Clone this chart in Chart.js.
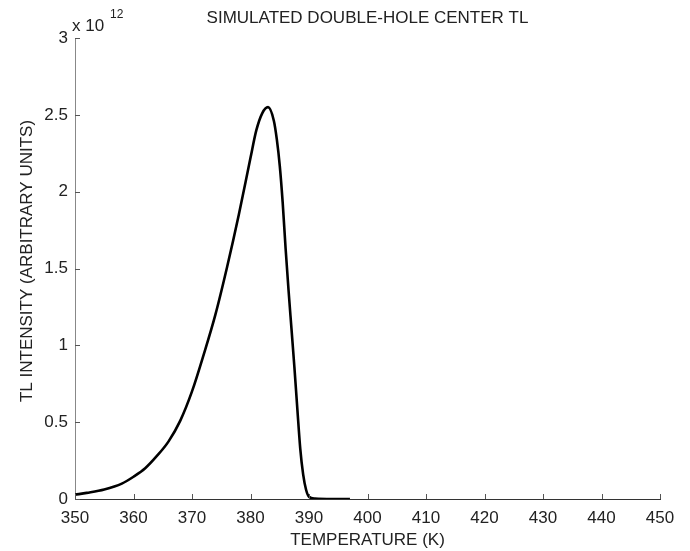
<!DOCTYPE html>
<html>
<head>
<meta charset="utf-8">
<script src="https://cdn.jsdelivr.net/npm/chart.js@4/dist/chart.umd.min.js"></script>
<style>
  html, body { margin: 0; padding: 0; background: #fff; }
  #wrap { width: 690px; height: 551px; }
</style>
</head>
<body>
<div id="wrap"><canvas id="tlChart" width="690" height="551"></canvas></div>
<script>
// temperature (K)
const temperature = [350, 352, 355, 358, 360, 362, 364, 366, 368, 370, 372, 374, 376, 378, 380, 381, 382, 383, 384, 384.5, 385, 385.5, 386, 386.5, 387, 387.5, 388, 388.5, 389, 389.5, 390, 391, 394, 397];
// TL intensity, in units of 10^12
const intensity = [0.028, 0.04, 0.062, 0.10, 0.145, 0.20, 0.28, 0.375, 0.51, 0.70, 0.94, 1.20, 1.51, 1.85, 2.22, 2.40, 2.51, 2.55, 2.46, 2.34, 2.17, 1.93, 1.63, 1.36, 1.11, 0.86, 0.59, 0.33, 0.16, 0.06, 0.015, 0.003, 0, 0];

const xTicks = [350, 360, 370, 380, 390, 400, 410, 420, 430, 440, 450];
const yTicks = [0, 0.5, 1, 1.5, 2, 2.5, 3];

const FONT = "'Liberation Sans', Arial, sans-serif";

// inward tick marks, title, y label and exponent
const decorPlugin = {
  id: "decor",
  afterDatasetsDraw(chart) {
    const { ctx, chartArea, scales } = chart;
    ctx.save();
    ctx.strokeStyle = "#555";
    ctx.lineWidth = 1;
    xTicks.forEach((t) => {
      const px = Math.round(scales.x.getPixelForValue(t)) + 0.5;
      ctx.beginPath();
      ctx.moveTo(px, chartArea.bottom);
      ctx.lineTo(px, chartArea.bottom - 5);
      ctx.stroke();
    });
    yTicks.forEach((t) => {
      const py = Math.round(scales.y.getPixelForValue(t)) + 0.5;
      ctx.beginPath();
      ctx.moveTo(chartArea.left, py);
      ctx.lineTo(chartArea.left + 5, py);
      ctx.stroke();
    });

    ctx.fillStyle = "#222";
    ctx.textBaseline = "alphabetic";
    ctx.textAlign = "center";
    ctx.font = "17px " + FONT;
    ctx.fillText("SIMULATED DOUBLE-HOLE CENTER TL", (chartArea.left + chartArea.right) / 2, 23);

    ctx.textAlign = "left";
    ctx.font = "17px " + FONT;
    ctx.fillText("x 10", 72, 31);
    ctx.font = "12px " + FONT;
    ctx.fillText("12", 110, 18);

    // y axis title
    ctx.translate(27, 261);
    ctx.rotate(-Math.PI / 2);
    ctx.textAlign = "center";
    ctx.textBaseline = "middle";
    ctx.font = "17px " + FONT;
    ctx.fillText("TL INTENSITY (ARBITRARY UNITS)", 0, 0);
    ctx.restore();
  },
};

new Chart(document.getElementById("tlChart"), {
  type: "line",
  data: {
    datasets: [
      {
        label: "TL",
        data: temperature.map((t, i) => ({ x: t, y: intensity[i] })),
        borderColor: "#000",
        borderWidth: 2.6,
        pointRadius: 0,
        cubicInterpolationMode: "monotone",
        fill: false,
      },
    ],
  },
  options: {
    responsive: false,
    animation: false,
    layout: { padding: { top: 38, right: 30, left: 0, bottom: 0 } },
    plugins: {
      legend: { display: false },
      tooltip: { enabled: false },
      title: { display: false },
    },
    scales: {
      x: {
        type: "linear",
        min: 350,
        max: 450,
        afterBuildTicks: (scale) => {
          scale.ticks = xTicks.map((v) => ({ value: v }));
        },
        afterFit: (scale) => {
          scale.height = 52;
        },
        grid: { drawOnChartArea: false, drawTicks: false },
        border: { display: true, color: "#333", width: 1 },
        ticks: {
          color: "#222",
          padding: 9,
          maxRotation: 0,
          font: { family: FONT, size: 17 },
        },
        title: {
          display: true,
          text: "TEMPERATURE (K)",
          color: "#222",
          padding: { top: -2, bottom: 0 },
          font: { family: FONT, size: 17 },
        },
      },
      y: {
        min: 0,
        max: 3,
        afterBuildTicks: (scale) => {
          scale.ticks = yTicks.map((v) => ({ value: v }));
        },
        afterFit: (scale) => {
          scale.width = 75;
        },
        grid: { drawOnChartArea: false, drawTicks: false },
        border: { display: true, color: "#888", width: 1 },
        ticks: {
          color: "#222",
          padding: 7,
          font: { family: FONT, size: 17 },
          callback: (v) => String(v),
        },
      },
    },
  },
  plugins: [decorPlugin],
});
</script>
</body>
</html>
